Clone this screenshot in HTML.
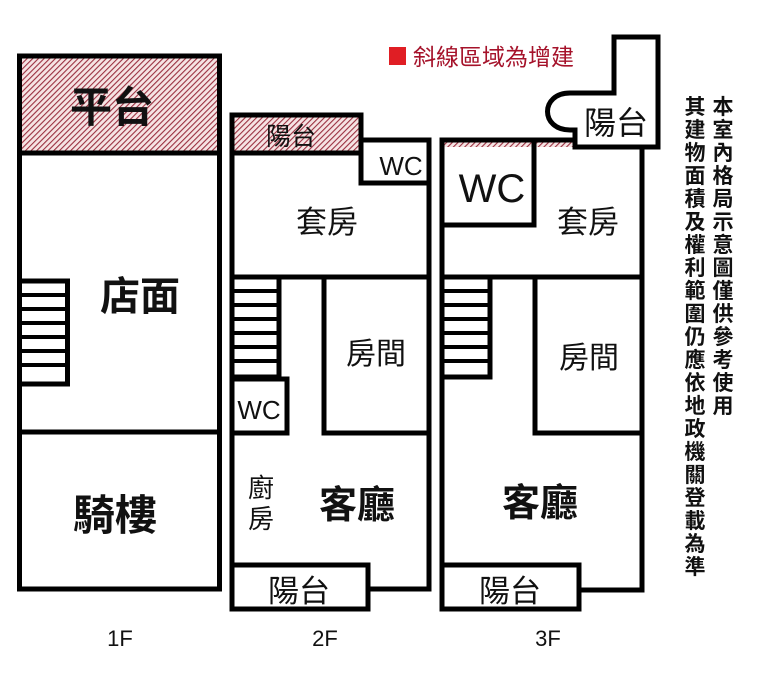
<!DOCTYPE html>
<html><head><meta charset="utf-8"><style>
html,body{margin:0;padding:0;background:#fff;}
svg{display:block;}
text{font-family:"Liberation Sans","Noto Sans CJK TC",sans-serif;fill:#111;}
</style></head><body>
<svg width="757" height="692" viewBox="0 0 757 692" xmlns="http://www.w3.org/2000/svg">
<defs>
<pattern id="h" width="4" height="4" patternUnits="userSpaceOnUse" patternTransform="rotate(-45)">
<rect width="4" height="4" fill="#f6e4e4"/>
<rect width="4" height="1.1" fill="#9a3040"/>
</pattern>
</defs>
<g fill="none" stroke="#000" stroke-width="5">
<!-- 1F -->
<rect x="22" y="58" width="195" height="93" fill="url(#h)" stroke="none"/>
<rect x="19.5" y="56" width="200" height="533"/>
<line x1="19.5" y1="153" x2="219.5" y2="153"/>
<line x1="19.5" y1="432" x2="219.5" y2="432"/>
<rect x="19.5" y="281" width="48" height="103" fill="#fff"/>
<!-- 2F -->
<rect x="234" y="117" width="126" height="34" fill="url(#h)" stroke="none"/>
<polyline points="232,589 232,115 361,115 361,140"/>
<line x1="232" y1="153" x2="361" y2="153"/>
<rect x="361" y="140" width="68" height="43"/>
<polyline points="429,140 429,589 368,589"/>
<line x1="232" y1="277" x2="429" y2="277"/>
<rect x="232" y="277" width="47" height="100"/>
<rect x="232" y="379" width="55" height="54"/>
<polyline points="324,277 324,433 429,433"/>
<rect x="232" y="565" width="136" height="44" fill="#fff"/>
<!-- 3F -->
<rect x="444" y="142" width="131" height="5" fill="url(#h)" stroke="none"/>
<polyline points="442,589 442,140 575,140"/>
<rect x="442" y="140" width="92" height="85"/>
<polyline points="642,147 642,590 579,590"/>
<line x1="442" y1="277" x2="642" y2="277"/>
<rect x="442" y="277" width="48" height="100"/>
<polyline points="535,277 535,433 642,433"/>
<rect x="442" y="565" width="137" height="44" fill="#fff"/>
<path d="M614,93 L614,37 L658,37 L658,147 L575,147 L575,130 L570,130 C540,130 540,93 570,93 Z" fill="#fff"/>
</g>
<!-- stair rungs -->
<g stroke="#000" stroke-width="4">
<line x1="20" y1="295" x2="68" y2="295"/><line x1="20" y1="309" x2="68" y2="309"/><line x1="20" y1="323" x2="68" y2="323"/><line x1="20" y1="337" x2="68" y2="337"/><line x1="20" y1="351" x2="68" y2="351"/><line x1="20" y1="365" x2="68" y2="365"/>
<line x1="232" y1="291" x2="279" y2="291"/><line x1="232" y1="305" x2="279" y2="305"/><line x1="232" y1="319" x2="279" y2="319"/><line x1="232" y1="333" x2="279" y2="333"/><line x1="232" y1="347" x2="279" y2="347"/><line x1="232" y1="361" x2="279" y2="361"/>
<line x1="442" y1="291" x2="490" y2="291"/><line x1="442" y1="305" x2="490" y2="305"/><line x1="442" y1="319" x2="490" y2="319"/><line x1="442" y1="333" x2="490" y2="333"/><line x1="442" y1="347" x2="490" y2="347"/><line x1="442" y1="361" x2="490" y2="361"/>
</g>
<g text-anchor="middle">
<text x="112" y="122" font-size="42" font-weight="bold">平台</text>
<text x="140" y="310" font-size="40" font-weight="bold">店面</text>
<text x="115" y="530" font-size="42" font-weight="bold">騎樓</text>
<text x="291" y="145" font-size="25">陽台</text>
<text x="401" y="175" font-size="26">WC</text>
<text x="327" y="233" font-size="31">套房</text>
<text x="376" y="364" font-size="30">房間</text>
<text x="259" y="419" font-size="26">WC</text>
<text x="261" y="497" font-size="26">廚</text>
<text x="261" y="528" font-size="26">房</text>
<text x="357" y="518" font-size="38" font-weight="bold">客廳</text>
<text x="299" y="602" font-size="31">陽台</text>
<text x="492" y="202" font-size="40">WC</text>
<text x="588" y="233" font-size="31">套房</text>
<text x="589" y="368" font-size="30">房間</text>
<text x="540" y="516" font-size="38" font-weight="bold">客廳</text>
<text x="510" y="602" font-size="31">陽台</text>
<text x="616" y="134" font-size="32">陽台</text>
<text x="120" y="646" font-size="22">1F</text>
<text x="325" y="646" font-size="22">2F</text>
<text x="548" y="646" font-size="22">3F</text>
</g>
<rect x="389" y="47" width="17" height="18" fill="#e01e24"/>
<text x="413" y="65" font-size="23" style="fill:#a5122a">斜線區域為增建</text>
<g font-size="21" text-anchor="middle" font-weight="bold">
<text x="723" y="114">本</text><text x="723" y="137">室</text><text x="723" y="160">內</text><text x="723" y="183">格</text><text x="723" y="206">局</text><text x="723" y="229">示</text><text x="723" y="252">意</text><text x="723" y="275">圖</text><text x="723" y="298">僅</text><text x="723" y="321">供</text><text x="723" y="344">參</text><text x="723" y="367">考</text><text x="723" y="390">使</text><text x="723" y="413">用</text>
<text x="695" y="114">其</text><text x="695" y="137">建</text><text x="695" y="160">物</text><text x="695" y="183">面</text><text x="695" y="206">積</text><text x="695" y="229">及</text><text x="695" y="252">權</text><text x="695" y="275">利</text><text x="695" y="298">範</text><text x="695" y="321">圍</text><text x="695" y="344">仍</text><text x="695" y="367">應</text><text x="695" y="390">依</text><text x="695" y="413">地</text><text x="695" y="436">政</text><text x="695" y="459">機</text><text x="695" y="482">關</text><text x="695" y="505">登</text><text x="695" y="528">載</text><text x="695" y="551">為</text><text x="695" y="574">準</text>
</g>
</svg>
</body></html>
